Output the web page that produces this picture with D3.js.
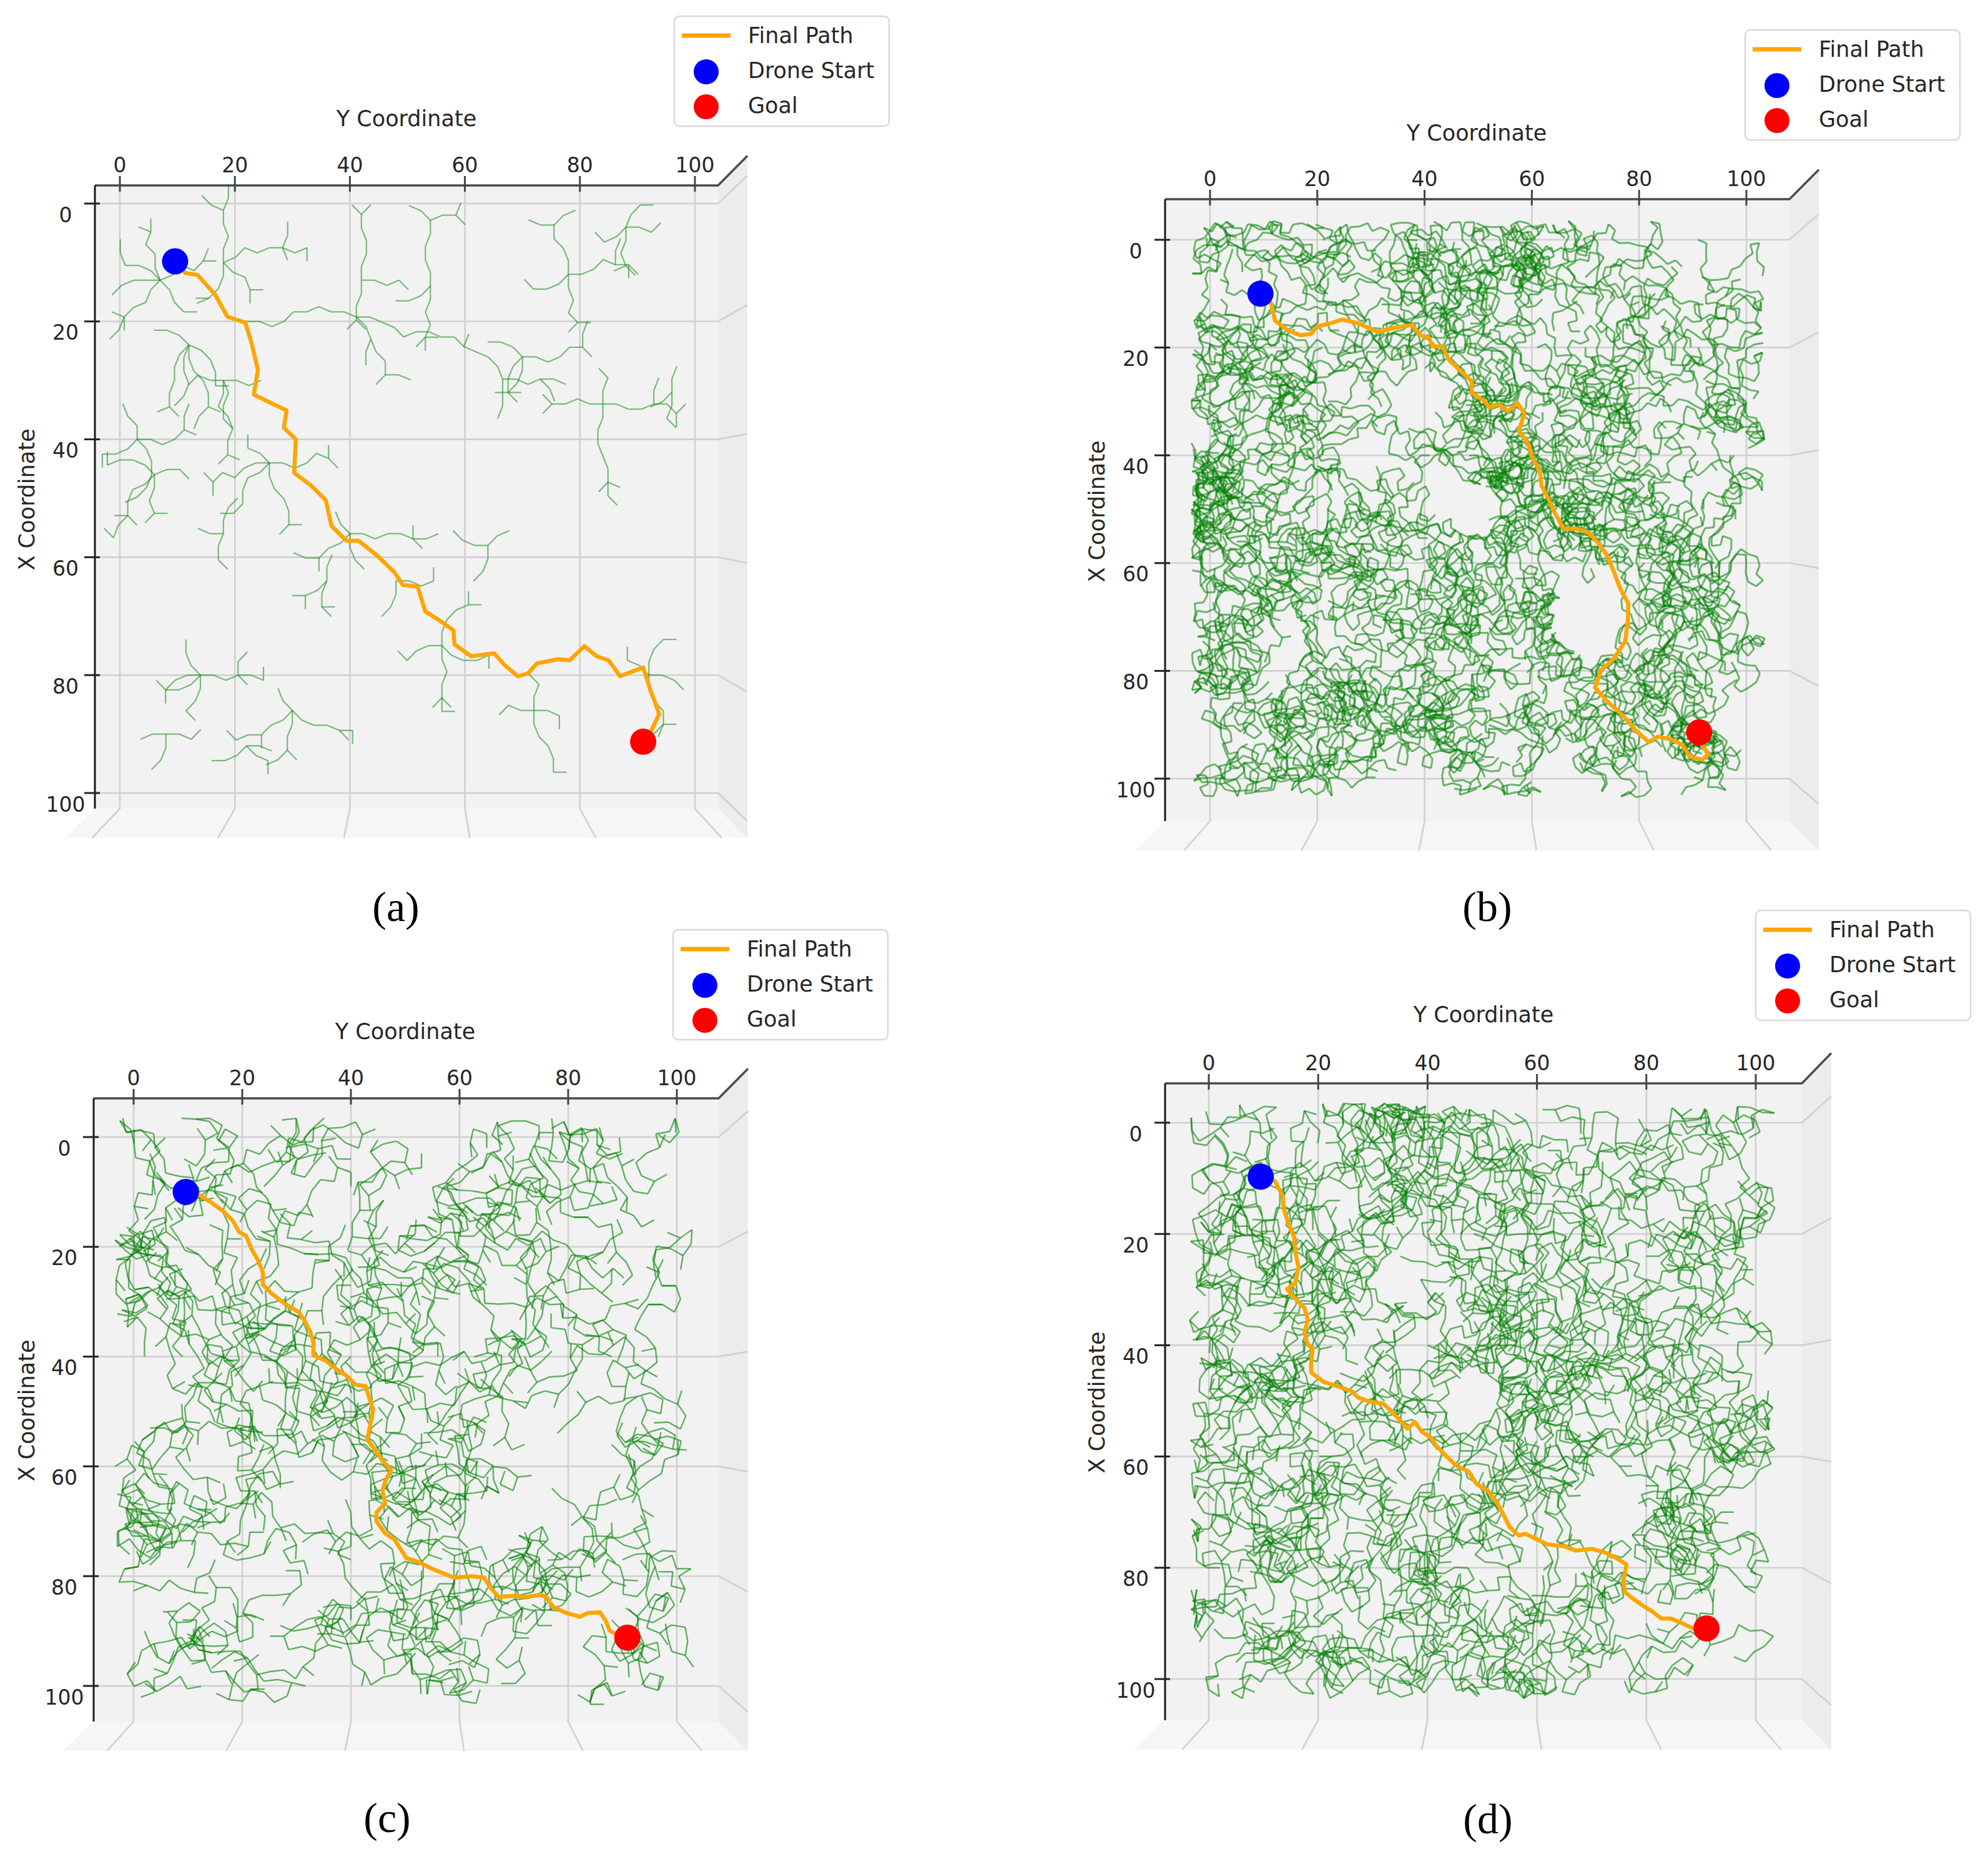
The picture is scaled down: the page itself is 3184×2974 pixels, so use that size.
<!DOCTYPE html>
<meta charset="utf-8">
<style>
body { margin: 0; background: #fff; }
svg { display: block; }
text { font-family: "DejaVu Sans", sans-serif; fill: #262626; }
</style>
<svg id="fig" width="3184" height="2974"></svg>
<script src="https://cdn.jsdelivr.net/npm/d3@7"></script>
<script>
// tick values, same on both axes
const ticks = [0, 20, 40, 60, 80, 100]
const legendItems = ["Final Path", "Drone Start", "Goal"]
const panelTags = ["(a)", "(b)", "(c)", "(d)"]

// start and goal, as [Y, X]
const starts = [[9.6, 9.8], [9.4, 10.0], [9.6, 10.0], [9.5, 9.7]]
const goals = [[91.0, 91.3], [91.2, 91.4], [90.9, 91.2], [91.0, 90.9]]

// final paths, [Y, X]
const pathA = [[9.6,9.8],[11.4,11.8],[13.5,12.1],[16.6,15.5],[18.7,19.2],[21.8,20.2],[22.8,23.3],[24.0,28.2],[23.3,32.4],[26.4,33.9],[29.0,35.1],[28.5,38.0],[30.6,40.0],[30.3,45.7],[33.2,47.8],[35.8,50.3],[36.8,54.7],[39.4,57.2],[41.5,57.2],[44.6,59.6],[47.7,62.5],[49.2,64.7],[51.8,65.0],[53.1,69.2],[55.4,70.6],[58.0,72.4],[58.2,74.8],[61.1,76.8],[65.1,76.3],[66.8,78.2],[69.2,80.2],[71.0,79.7],[72.5,78.0],[76.2,77.3],[78.2,77.5],[80.8,75.1],[82.9,76.8],[85.0,77.5],[87.0,80.2],[91.0,78.7],[92.2,82.4],[93.8,86.6],[92.2,89.8],[91.0,91.3]]
const pathB = [[9.4,10.0],[11.4,11.8],[12.1,15.0],[14.5,16.8],[16.8,17.7],[18.8,17.5],[20.0,16.1],[22.4,15.5],[24.7,14.8],[27.6,15.5],[31.2,17.1],[34.1,16.4],[37.6,15.8],[39.2,17.7],[40.8,18.2],[41.5,19.8],[43.3,19.8],[44.7,22.5],[47.1,24.7],[48.8,26.3],[48.8,28.4],[51.2,30.0],[52.1,31.1],[53.8,30.5],[55.6,31.8],[57.3,30.3],[58.6,32.2],[57.6,35.4],[59.4,38.0],[60.0,40.2],[61.5,42.9],[61.8,45.6],[62.9,47.7],[64.4,50.9],[65.9,53.6],[68.2,53.6],[70.6,54.4],[72.4,56.3],[73.9,58.4],[75.3,61.6],[76.5,64.8],[78.0,67.5],[77.9,70.7],[77.4,74.5],[75.3,77.7],[72.9,79.9],[71.8,83.1],[74.1,85.7],[77.1,88.4],[79.4,91.1],[81.8,93.2],[83.5,92.2],[85.9,92.7],[88.2,93.8],[89.4,95.9],[91.8,96.5],[92.9,95.4],[91.4,93.2],[91.2,91.4]]
const pathC = [[9.6,10.0],[12.2,10.6],[14.4,12.0],[16.6,13.6],[18.3,15.3],[19.4,17.3],[20.7,18.0],[21.6,20.2],[22.9,22.5],[23.8,24.7],[23.8,26.9],[25.4,28.5],[27.6,30.2],[30.4,31.9],[31.5,33.5],[32.6,35.7],[33.1,37.4],[33.1,39.8],[35.3,40.7],[37.5,42.4],[39.2,43.5],[40.8,45.1],[42.7,45.4],[43.3,47.3],[44.1,49.6],[43.6,52.3],[43.0,55.1],[44.7,57.3],[45.8,59.0],[47.4,60.6],[46.3,62.8],[45.8,64.5],[46.3,66.7],[44.7,68.4],[44.7,70.0],[46.3,72.2],[48.0,73.3],[49.1,75.0],[50.2,76.7],[52.4,77.4],[54.6,78.5],[56.8,79.4],[59.0,80.3],[62.3,80.0],[64.5,80.3],[65.8,82.2],[67.2,83.8],[70.0,83.6],[72.2,83.8],[74.9,83.4],[76.0,83.8],[77.1,85.5],[79.3,86.6],[82.1,87.4],[83.7,86.7],[85.9,86.6],[87.0,88.3],[87.6,89.9],[89.2,90.8],[90.9,91.2]]
const pathD = [[9.5,9.7],[12.1,10.5],[13.5,13.2],[13.7,15.5],[14.6,18.2],[15.6,20.5],[15.8,23.2],[16.4,26.0],[15.8,28.8],[14.3,29.9],[15.8,31.6],[17.5,33.3],[18.1,35.5],[17.5,37.7],[18.1,39.9],[19.0,40.5],[18.7,43.3],[18.7,44.9],[21.0,46.6],[23.9,47.5],[26.2,48.3],[27.3,49.4],[29.6,50.2],[31.9,50.5],[33.1,51.6],[34.8,53.3],[36.3,55.0],[37.7,53.8],[38.9,55.5],[40.6,56.6],[41.8,58.3],[43.5,60.0],[45.2,61.6],[47.5,62.7],[49.0,65.0],[51.0,66.1],[52.7,68.3],[53.9,70.5],[55.0,72.7],[56.7,74.2],[57.9,73.9],[60.2,75.0],[61.9,75.8],[64.8,76.1],[67.1,76.9],[70.0,76.6],[72.3,77.2],[74.6,78.3],[76.4,79.4],[75.8,82.2],[76.1,84.4],[77.5,85.5],[79.2,86.7],[81.0,87.8],[82.7,89.1],[84.4,89.1],[86.2,89.8],[88.5,90.9],[91.0,90.9]]

// obstacle gaps seen in the trees: [Y, X, radius]
const holesA = []
const holesB = [[39.4, 29.5, 5], [49.4, 49.8, 4.3], [70, 70.7, 5.8]]
const holesC = [[66, 70, 5], [50.5, 12.7, 3.5]]
const holesD = [[34.6, 28.6, 4], [48.5, 49, 4.2], [72, 69.4, 6]]

// RRT edges: "Y,X:" start, then one letter per edge, "(" / ")" open and close a side branch.
// tree A: letter = heading (a..p = 16 headings, a = +Y, e = +X)
// trees B-D: first letter = heading, then each letter = turn from the previous edge (h/i = nearly straight)
const stepA = 2.3, stepB = 1.7, stepC = 2.6, stepD = 2.3
const treeA = [
"7,13:(lmkn(j)m)(kjil(m))(gfhg(e)(j)fg)(pobo(n)a)(cdc(a))(iih(g))",
"18,10:(mnlm(jk)(nm))(pobpa(nm)(d)bp(e))(efg(h)(i))(cbd(e)a)",
"22,20:abpoapbab(cd(fe)dce(g)(ab))abbcpabac(n)bbcd(ee(f))abp(cd)ab",
"12,24:(edcde(gf)(b))(gfefe(h)(c))(bcde(a))(kj(i))(fedf(g))",
"18,30:(efcdfe(b)(g))(ij(g))(abp)(dfe(c))",
"3,40:(abpo(mn)(b))(cdefg(h))(ghi(k)(e))(mkl)",
"42,13:(mnmlm(k)(o))(efe(c)(g))(abp(c))",
"54,14:(mlmnm(kj)(pa(n)(c)))(efdf(a)(g)e)(ghi)",
"78,12:(mlkm(ij)(op))(apob(mn)a(c)(e))(edfc(a)(g))(ghi(k))",
"88,4:(efd(c)(h))(ab(o))(gh(k))(no(a))",
"70,26:(abpoa(mn)(c))(efg(i)(c))(kj(i))(gfe(a))",
"84,34:(abap(mn)ac(e)(o))(ijhi(k)(g))(efedde(g)(b)e(c))(mnk)",
"96,32:(gh)(ef(c))(mn)",
"26,44:(ihgjg(e)(k))(abpob(m)(c))(edcde(a)(g))(kjm)(ghfeg(i))",
"18,56:(mn(o))(fe(c))(ij)",
"40,56:(abpab(m)(c)ap)(ghg(ij)(e))(ed(c))(kl)",
"36,64:(gh(i)(e))(fe(c)(a))(mn)",
"14,80:(ihg(k)(e))(abp(mo)(c)ab(m))(kl(m))(efg(c))(ghi)",
"8,90:(ab(o))(ef(g))(ih)",
"30,86:(ghg(e)ih(k))(cbab(c)a(e))(efe(gh)(c))(kl)",
"22,92:(gh(i))(cb(e))(ab)",
"56,75:(mnop(m)(a))(ihg(k))(edfe(c)(g)e(a))(cbap(e))",
"72,86:(edcde(a))(mn(k))(ij(g))(ab(e))",
"92,80:(mno(a))(edce(g)(a)f)(kjm)(ab(c))",
"6,46:(kjih(m))(pa(c))(ghfe(i)(c)gf(k))(efd(a)g)",
"48,64:(abp(m))(ef(g))",
"64,58:(ij(k))(op)(ef(g))"
]
const treeB = [
"1,1:dkhpbfmaoiegcljnbhekpdamgfoiclnk(b)ehjdpagmcfkoe(i)bnlhd",
"11,2:gamcoekibpfhdlnjagokcmeibhpfdnljk(c)aegmokibdfhpjl(n)cea",
"21,0:pjbhldnfaciekmgoblpjhdfnaceikgmo(d)jbphlnfdaecki(g)omb",
"31,2:inbkfcoghmdaeljpbinfkcgohmdaelpj(a)nkbfoghcmdeal(j)pib",
"41,1:eogmciakbfdhpjlnoegmcaikfbhdjpnl(e)gomcaibkdfhp(l)jne",
"51,0:mcaeoigkbdfhjlnpacmeiogkdbhfljpn(m)caoeigbkfdhl(p)njc",
"62,2:kfbdhmjpnlaceigokfdbmhpjlnecagio(k)bfhdjmnplcae(o)gik",
"71,1:hlpdbjnfkacgmeiohldpbnjfakcmgeio(h)plbdjfnkcame(g)ohl",
"81,2:ofjbkdnhlpaegcmiofbjdknhplaegmci(f)objkdhnlpeag(m)cio",
"91,0:bnhldfjpcakgeimobhnlfdjpackgiemo(b)nhdlfjcpkage(m)iob",
"2,11:cmaigoekhbdpjfnlcmiagokehdbpfjln(c)imaogkhedbjp(f)lnc",
"12,12:fkdpbhnjlaeicgomfdkbphjnalicegmo(f)kdbpnhjlaice(o)gmf",
"22,10:jnlhpdfbaogcmiekjlnphfdbgaocimke(j)nlhpfdbgoacm(e)kij",
"32,12:aicgkmoebdfhjlnpiacgmkoedbhfljnp(a)icgkomebdhfj(n)lpa",
"42,10:lnjpbdhfmkoigecalnjbpdfhmokgiaec(l)jnbphdmfoikg(c)eal",
"52,12:doflhbjnpaemcgikdofhlbnjapmecigk(d)foblhnjapcme(k)gid",
"62,11:gkmioecabdhfjlpngmkieocadbhfjlnp(g)kmioeabcdfhj(p)lng",
"72,12:nbjflhpdkoaimcegnbfjhlpdokiamceg(n)jbflphdkaoim(e)cgn",
"82,10:emgkaicoflhjdbpnmegkiacolfjhbdnp(e)gmkaicofhljd(n)bpe",
"92,12:iaecmgoklbhfpdjnaiecgmkobhlfdpnj(i)eacmgkolhbfp(j)dni",
"1,21:bpdnfljhcakimgeobpndlfjhackimgoe(b)dpfnjlchaikm(o)geb",
"11,22:kgocmaeijlnphfdbgkcoamieljpnfhbd(k)ogcmaiejnlpfh(b)dgk",
"21,20:hdjbnlpfeiacokgmdhbjlnfpieaockmg(h)jdbnplfeaico(g)kmh",
"31,22:ocgkiamejnbhlfpdcogkaimenjhblfdp(o)gckaimjenhbl(d)fpo",
"41,21:mieakcgonpljhdbfimaekgcopnjlhbdf(m)eiakcgnoplhj(f)dbm",
"51,22:fbhldnjpgkcmeoaibfhlndpjkgmcoeia(f)hbldnpjkgcme(i)oaf",
"61,20:pnljhfdbigkcmoeanpjlfhbdgikcomae(p)lnjhfbdgkic(e)oma",
"71,22:cekgimoalnpjbdhfecgkmiaonpljdbfh(c)kegimaolpnjb(h)fdc",
"81,21:jhfnldbpoamkcegijfhlndpbaomckgei(j)fhnlbdpomakc(i)gej",
"91,20:dlpbhnfjmioeakcgldbphfnjimeokagc(d)pblhnjfiomea(g)cld",
"2,31:gimkocaeljnpdfbhigkmcoealnpjfdhb(g)mikoacelnjp(b)dfg",
"12,32:nhbjdlfpakcmgioenbhdjflpkacgmieo(n)bhjdfplkacm(o)gin",
"22,30:ajcelgnibkdmfohpjaeclngbikmdofph(a)cjelgnbkidm(p)foa",
"32,31:lfndpbhjeogmaickflndbphjoegamcki(l)nfdpbjhoeag(k)mcl",
"42,32:ckaemgoiplnjhfdbkcaegmiolpjnfhbd(c)akemgoipnlj(d)hfc",
"52,30:hpfnjdlbmacogkiephnfdjblcmoakgie(h)fpnjdlbcmoa(i)gkh",
"62,32:emcokgaidjbpfnhlmecogkiajdpbnfli(e)cmokagijbdp(l)fne",
"72,31:jbhfdnlpgciakmoebjfhndplcgaikome(j)hbfdlnpgcai(e)omj",
"82,30:oigkmecanlpjbhdfiogmkceaplnjhbfd(o)giekmcanpjl(f)hdo",
"92,32:fdbhjlnpkimoacegdfhbljpnikmocaeg(f)bdhjlpnkioa(g)ecf",
"1,41:kcagiemonjlphbfdckgaeimoplnjbhdf(k)acgieompnjl(d)fbk",
"11,42:bhdfjlnpocakigmehbfdljpnaockgime(b)dhfjnlpaoci(m)egb",
"21,40:mgiekcaopnljfhdbgmeikacopljnhfbd(m)igkecaonplj(b)dhm",
"31,42:djfhbnlpaekcgiomjdhfnblpkeacigmo(d)fjhbnplaekc(o)gid",
"41,40:ieacgkmopnljdhfbeicakgmonpjldfhb(i)aegckmopljn(b)fdi",
"51,42:nplhjdfbckgeiamopnhldjbfkcegaimo(n)lpjhfdbckge(o)amn",
"61,41:cgkeaimobdfhlnjpgcekiamodbhfnljp(c)kgaeimodfbh(p)jlc",
"71,40:hjdblfpnmoikgecajhbdflnpomkigcea(h)djbflpnmiko(a)ceh",
"81,42:oecgmakijplnfdhbeocmgaikpjnlfhdb(o)cegamkiplnj(b)hdo",
"91,41:fldpjbnhgkamciofldjpbhnkgmaicfoe(f)dljpnbhgkma(e)oif",
"2,51:aomkigeclnpjhfdboamikgcelpnjfhbd(a)mokigecnlpj(d)bfa",
"12,52:jpbfhldnkeamgcoipjfbhdlnekmagoci(j)bpfhldneakm(i)ocj",
"22,50:eikmacgoblfjhnpdiekmcaogblfjhnpd(e)kimacgobjlf(d)pne",
"32,52:lbdfhjnpcgaekiomblfdjhpnacgkeimo(l)dbfjhnpgcae(o)mil",
"42,51:gmoikcaenpljdfhbmgoikcaeplnjfdhb(g)omiakcenlpj(b)hfg",
"52,52:pjnlhfdbaceikgomjpnhlfbdcaeigkmo(p)nljfhdbeacig(o)mkp",
"62,50:dhfbjlnpmikoeacghdbfljpnimokcaeg(d)fhjblnpmiko(g)cad",
"72,52:kacegimonlpjhfbdakcgeimolnpjfhdb(k)caeigmonpjl(b)dfk",
"82,51:bfhdlnjpeocmkagibfdhnljpoemckaig(b)hfdnljpeocm(i)gab",
"92,50:mkogiecapnjlhbfdkmoigeacnpljbhdf(m)okgieacpnjl(f)dhm",
"1,61:hnljpdbfimkgoaechnlpjbdfmikogaec(h)lnpjdbfmkig(c)eoh",
"11,62:cgeaikomdfbhjnlpgcaeikmodbfhnjpl(c)egaikomdbfh(l)pjc",
"21,60:odbfhlpnigekcmaodbhflnpgiekcamio(d)bhflpngieck(a)mod",
"31,62:fjlnpbdhckmaeogijflpnbhdckaemoig(f)ljnpbdhcmka(g)oef",
"41,61:lpjnhdfbgaieckmoplnjdhbfagiceokm(l)pjhndfbaigc(m)okl",
"51,60:aegcikmobhdflnpjeagcimkohbfdnlpj(a)gecikmobdhf(j)pla",
"61,62:ikmgoecahjlnbpdfkimogceajhnlbdpf(i)kgmoceahnjl(f)dbi",
"71,61:dnpljhfbcaekigmondlpjfhbacekgimo(d)npjlfhbcaek(o)mgd",
"81,60:gcaekimoflhjdnpbcgeakmiolfjhndbp(g)aceikmofhlj(p)ndg",
"91,62:nlpjdbhfkmoigecanlpdjbhfmkoiegca(n)pljbdhfkmoi(a)ecn",
"2,71:eokmaicgbhdflnjpokemiacgbdhflnpj(e)kmoaicgbdfh(j)lpe",
"12,72:lhfdbjnpcaegikmohlfdjbpnacgeikom(l)fhdbjpncaeg(o)mil",
"22,70:bdfhjlnpmoikgecabfdhljnpomkigeca(b)fdjhlnpmoik(a)ecb",
"32,72:jnplhdbfecagikomnjpldhfbcegaikmo(j)plnhbdfeacg(m)oij",
"42,71:omkigecapnljhfdbmoikgceanplhjfbd(o)kmgicaenpjl(d)bho",
"52,72:cegaikmobdfhjlnpecagikomdbfhljpn(c)geaikmodbfh(n)plc",
"62,70:iacegkmohjlnpbdfaicgekomjhnlbpdf(i)caegkmohjln(f)dbi",
"72,72:fhdbljnpgiaceomkhfdblnjpigcaeomk(f)dhbljnpgica(k)mof",
"82,71:mogikacednlpjfhbomigkacdenplfjbh(m)giokaecdnlp(h)bjm",
"92,70:pnjlfhbdkioemgcanpljhfdbikeomgca(p)jnlhfbdkieo(a)cgp",
"1,81:aceikmgodbfhnljpcaeikgmobdhfnjlp(a)eckimgodbhf(p)lja",
"11,82:gikmoaecjlnpbdhfigmkoeacljpnbhdf(g)kimoeacjnlp(f)hdg",
"21,80:dfhbljnpoamkciegfdhbljpnmaokcgie(d)hfblnjpoamk(e)gid",
"31,82:kmoaigcelpnjfdhbmkoiagcepnljdfbh(k)omaigcelnpj(h)bfk",
"41,80:hbdfnljpceagkmoibhdflnjpecgakomi(h)dbfnljpeca(i)omh",
"51,82:nljpdfhbimkogaecnljpfdbhmikoagce(n)ljpdfhbimko(c)ean",
"61,81:bfhdjlpnaegcikmofbdhjplnaegicmko(b)hfdjlpnagec(o)mkb",
"71,80:ogmikaecpjlnbhdfgomkiacejpnlhbfd(o)mgkiacepjln(d)fho",
"81,82:eacgikmondfhljpbaecgkimonfdhjlbp(e)cagikmodnfh(p)lje",
"91,80:jlnpbdfhkigmoecajlnpdbhfikmgeoca(j)nlpbdfhkigm(a)cej",
"2,91:mkiogecafhdbljpnkmioegacfdhbjlnp(m)ikogecafdhb(n)plm",
"12,92:cagekimohfdbpnljacgeikmofhbdnplj(c)gaekimohdfb(j)lnc",
"22,90:ljnpbhdfgeacimkojlpnhbfdgaecikmo(l)njpbhdfgeac(o)kml",
"32,92:fdbhnljpoimkaegcdfhbnjlpomikeagc(f)bdhnljpoimk(c)gef",
"42,91:iomkceagjlnpdfbhoimkecgajnlpfdhb(i)mokceagjlnp(h)bdi",
"52,90:bhfdjpnlmkoigcaehbdfpjlnkmiogace(b)fhdjpnlmkoi(e)acb",
"62,92:eikgmoacbfdhlnpjiekmgaocfbhdnljp(e)kigmoacbfdh(j)pne",
"72,91:njlphbfdacekimognljphbdfcaeikmgo(n)ljphbfdace(o)gin",
"82,90:kocmagiedhbfpnljockmgaiehdfbnplj(k)comagiedhbf(j)lnk",
"92,92:pljnfhdbegacomkilpnjhfbdgecaoimk(p)jlnfhdbegac(k)iop",
"6,6:mfkbpdhaolgjecnibkfmdaphogcljnebikdfamhpoclgjaenbdk(i)fhm",
"22,7:ekophcnajbmgildfhaepkcobmjgnldifakeohpcnbjmgaldi(f)keoh",
"38,5:bjlfcnhaeopgkdimjbfhlncpaeokgmidbjhflcnepaog(k)dimb",
"54,6:hnadkpfjcgmobelilhndakfpjgcmboelihandkpjfgcmo(b)elih",
"70,7:oigbmecakpnhjdflgoimbcekapnjhfdlogibmecakn(p)hjdfl",
"86,5:cphmjaekgnbfodliphcmjeakngbfdoilpchjmeakgbnf(o)dli",
"5,16:dlegpajnchkobfimldgepjancokhfbmidlgpeajnhc(k)obfm",
"21,17:kbnfidmapgoechjlbknifmdaogpcejhlbkifnmadopg(c)ehjl",
"37,15:gnckebjhaplfodimngkcbejhpalofdminckgbejahp(l)fodm",
"53,16:aejmhcpkdngbilofeajhmckpnbdgilfoaemjhcpkd(n)gbil",
"69,17:inpbdhlkfaojcgmeipnbhdklfoajcgmeinbpdhlkf(a)ojcg",
"85,15:fbokmjgldahcepinfobkmgjldhaceipfnbokmjgld(a)hcep",
"6,26:lhcdnmgaipkbfjeohlcndgmaipbkfjeolhcdnmgai(p)kbfj",
"22,25:pjfmbgoeckadnlhijpfbmogeckdanlihjfpbmgoec(k)adnl",
"38,27:caholfkdnjegmbpiachlofkndjgembpicahlofkdn(j)egmb",
"54,26:nkejaimcbphgdlofnkjeiamcpbhgldofnkejaimcb(p)hgdl",
"70,25:ebgplinhdjcakomfebpglnihjdcakomfbegplinhd(j)caok",
"86,27:jmcfohakdbnelgipjmfcohkadbenlgipmjcfohakd(b)nelg",
"5,36:hdjkbnafpcolgmeihdkjnbfapcolgemihdjkbnafp(c)olgm",
"21,37:oljciaemhbfdnkgpolcjaiemhbfdknpgoljciaemh(b)fdkn",
"37,35:bgmhekdncilpjfaobgmhkedncipljfaogbmhekdnc(i)lpjf",
"53,36:mcgnpafkhjeiodlbmcnpgafkjheiodblmcgnpafkh(j)eiod",
"69,37:fpkdaiglbmochenjfpdkailgbmocehnjpfkdaiglb(m)oche",
"85,35:kaebhmjogdnpfcilkabehmojgdpnfclikaebhmjog(d)npfc",
"6,46:eolfbjdkgahmcinpeoflbjkdgamhcinpoelfbjdkg(a)hmci",
"22,47:ncjaheplgbkfmdoinjcahelpgkbfmdoincjahepl(g)bkfmd",
"38,45:gkpmbchdiaoejlnfgkmpbcdhiaeojlnfkgpmbchdi(a)oejl",
"54,46:pbhjkmfaengoclidpbjhkmafnegoclidbphjkmfae(n)gocl",
"70,47:dlaomkipchgbjefndlomakpichbgjefnldaomkipc(h)gbje",
"86,45:ihdcnoepbkjaflgmihcdoneplkbjfagmhidcnoepb(k)jafl",
"5,56:algpjcfibmhkodenalpgcjfimbkhodenlagpjcfib(m)hkod",
"21,57:fnoekhbicpmjlgdafneokbhicmpjgldanfoekhbic(p)mjlg",
"37,55:kjdbmafgpoilhcenkjbdamfgopilchenjkdbmafgp(o)ilhc",
"53,56:chmlnegdbkjpiofachlmengbdjkpoifahcmlnegdb(k)jpio",
"69,57:mpifcdalkhgnjbeompfidcalhkngjbeopmifcdalk(h)gnjb",
"85,55:gebnoljkmadiphcfgeonbljmkadpihcfegbnoljkm(a)diph",
"6,66:ncgjpalfhdmobikenjcgpafhldmboiknecgjpalfh(d)mobi",
"22,67:bidmeolkajfgcphnbdimoelkjafgpchndbimeolka(j)fgcp",
"38,65:jogaknfcmebdliphjgoanfkmcedblpihojgaknfcm(e)bdli",
"54,66:elkhbmpjodigfacnelhkmbpjdoigafcnlekhbmpjo(d)igfa",
"70,67:hafcilnbgkpedomjhacfinlgbkepdmojahfcilnbg(k)pedo",
"86,65:pmdoejgchbakfnlipmodjegcbhakfnlimpdoejgch(b)akfn",
"5,76:dkbmhopnjaglceifdbkhmoplnjagclefidkbmhopn(j)aglc",
"21,77:jefgmdciblnphakojfegdmcilbnphkaofjegmdcib(l)nphk",
"37,75:oclkjnaemgfhbdpiolckjanemfghbdpilocjkaneg(m)fhbd",
"53,76:ahpbgkfdjcmeniolhapgbkdfjcemnoilahpbgkfdj(c)meni",
"69,77:lmgiedjokpcafbhnlmigedojpkacfbnhmlgiedjok(p)cafb",
"85,75:fnaoclbhmkepijdgfnoaclhbmkpeijgdnfaoclbhm(k)epij",
"6,86:ibmcfkoahjnedlpgibcmfkaohjendlpgbicmfkoah(j)nedl",
"22,87:eoncldjgiafhkmbpeonclgdjiahfkmpbonecldjgi(a)fhkm",
"38,85:kfiaobmdeglhpcnjkfaiobdmeglhpcjnfkaiobmde(g)lhpc",
"54,86:cjlphnaiokbfmedgcjplhnioakbfemdgjclphnaio(k)bfme",
"70,87:nmekgbcjlfaohpidnmkegcbjflaohipdmnekgbcjl(f)aohp",
"86,85:gpdnimekhocjablfgpndiemkhcojbalfpgdnimekh(o)cjab",
"5,96:hegoaknmpbcildjfhgeoakmnbpcildfjghegoaknm(p)bcil",
"21,97:bpljmdgenficahokbplmjdgeinfcahokpbljmdgen(f)icah",
"37,95:mclebpgkoiajndhfmclbepkgioajndfhcmlebpgko(i)ajnd",
"53,96:ikfdhnolagjmpebcikdfhonlagmjpecbkifdhnola(g)jmpe",
"69,97:dagkmibfcjhleopndagmkibcfhjleonpadgkmibfc(j)hleo",
"85,95:ljhnpecakfdgbmoiljnhpeackfgdbmoijlhnpecak(f)dgbm",
"88,5:kcnhfaojdlbmgepiknchafjodlbmegpi(c)knhcfajdol",
"96,12:hdmaleckgbjofnpihdmlaekcgjbfonpi(h)dmlaekcgjb",
"84,16:bnfkiahcomejgldpbnkfaihocmjegdlp(b)nkfaihocmj",
"92,26:ojcgmbelhakdipnfojgcmbleahkdpinf(o)jgcmblehak",
"86,32:lfaockhmdbjnegipflocakmhbdnjgeip(f)locakmhbdn",
"97,40:egkbnhpcjmaodfliegbknhcpmjoadlif(e)gbknhcpmjo",
"90,44:iaemgocjkbhnfdlpaiegmojckhbfndlp(i)aegmojckhb",
"78,50:nhbjdlfpakcmgioehnjbldpfkacgmioe(n)hjbldpfkac",
"86,56:cokgaemidjbhlnfpockagmeijdhblfnp(c)okagmeijdh",
"72,48:gmdiplaenckhbjfomgidlpeancbkhjof(g)midlpeanch",
"64,56:pbfjhndlgckaeoimpbjfnhldcgakoeim(p)bjfnhldcga",
"80,62:dhlafpcjmgebiknodhalpfjcgmbekinod(h)alpfjcgmbe",
"94,60:jneackgomibhfdlpjenacgkmoibfhdlp(j)enacgkmoib",
"90,70:fkomaicegldnhbjpfkmoaiecglndhbjp(f)kmoaiecgln",
"96,80:mcihaegkobdpflnjmicahgekbodfpnlj(m)icahgekbod",
"84,86:aljngdfhpceikmobajlgndhfcpiekmob(a)jlgndhfcpi",
"94,94:khgecamoipnljfdbhkegcaomipnjlfdb(k)hegcaomipn",
"76,94:eblidognkfachjpmbelidgonfkcahjpm(e)blidgonfka",
"64,92:opcnaekmgidfhlbjpocnakemgdifhlbj(o)pcnakemgdi",
"56,88:hjfdbplnikmoaecghjdfbpnlkimoeacg(h)jdfbpnlkim",
"46,94:nmacegkoiphjldfbmnacgekopihljdfb(n)macgekopih",
"36,90:dbhfljpnmkoigecadbfhjlnpkmiogeca(d)bfhjlnpkmi",
"26,96:loemcgaikbdnhfjpoelmcagikdbnfhjp(l)oemcagikdb",
"16,88:gafkpbmhcnodiejlgafpkbhmcondeijl(g)afpkbhmcon",
"6,94:biodfkalhpgmjncebiofdkahlpmgjnce(b)iofdkahlpm",
"4,74:kngaedcpbmjhfoilkngedapcmbjhofil(k)ngedapcmbj",
"10,66:fheolkbdjagpcinmfhoekldbajgpicnm(f)hoekldbajg",
"2,56:mkjlgbaeochpfndimkljbgeachopfdni(m)kljbgeacho",
"12,50:cdpngiofkalhmejbcdnpigfoaklmhjeb(c)dnpigfoakl",
"30,58:jbmaoldfniehcpkgjbamlofdinhecpkg(j)bamlofdinh",
"40,66:amgfpkjenbdlohcimagpfjknebldhoci(a)mgpfjknebl",
"54,76:ielbocmhagnkdpfjielobmcahgkndpfj(i)elobmcahgk",
"62,80:ndkjhfocmbailgpendjkfhcobmaiglp(n)djkfhcobma",
"30,6:pfngkdajhmlbecoipfgnkadhjmblceoi(p)fgnkadhjmb",
"46,4:hcaolgdpjkfmbinehcolagpdjkmfbine(h)colagpdjkm",
"60,12:lgjphcnbeafdkmoilgpjhncbaefkdmoi(l)gpjhncbaef",
"70,20:ebnmjaklcfgidhopebmnjkalcgfidhop(e)bmnjkalcgf",
"58,42:okdgclbjnhaeipfmokgdlcbjhnaeipfm(o)kgdlcbjhna",
"44,38:gnhcjpmeaokbfldigncjhpemaobkfldi(g)ncjhpemaob",
"20,42:bfjmdkheapognlcibfmjkdheaopgnlci(b)fmjkdheaop"
]
const treeC = [
"3,3:dk(g)hpb(a)fma(i)oieg(c)cljn(o)bhek(e)pdam",
"15,4:gam(e)coek(a)ibpf(m)hdln(c)jago(i)kcme(g)ibh",
"28,2:pjb(l)hldn(e)facie(o)kmgo(b)lpjh(i)dfna(k)cei",
"40,4:inb(d)kfco(m)ghmd(a)eljp(g)binf(o)kcgo(e)hmd",
"53,3:eog(b)mcia(k)bfdh(n)pjln(e)oegm(c)aikf(j)bhd",
"65,2:mca(g)eoig(a)kbdf(m)hjln(c)pacm(e)iogk(a)dbh",
"78,4:kfb(m)dhmj(e)pnla(i)ceig(o)kfdb(g)mhpj(a)lne",
"90,3:hlp(e)dbjn(a)fkac(i)gmei(c)ohld(m)pbnj(g)fak",
"2,15:ofj(c)bkdn(i)hlpa(e)egcm(o)iofb(k)jdkn(a)hpl",
"14,16:bnh(k)ldfj(c)pcak(g)geim(a)obhn(e)lfdj(m)pac",
"27,14:cma(e)igoe(m)khbd(a)pjfn(i)lcmi(c)agok(e)hdb",
"39,16:fkd(o)pbhn(g)jlae(c)icgo(k)mfdk(a)bphj(e)nal",
"52,15:jnl(a)hpdf(m)baog(e)cmie(i)kjln(c)phfd(o)bga",
"64,14:aic(m)gkmo(e)ebdf(i)hjln(a)piac(g)gmko(c)edb",
"77,16:lnj(e)pbdh(o)fmko(a)igec(k)alnj(e)bpdf(i)hmo",
"89,15:dof(k)lhbj(a)npae(g)mcgi(o)kdof(c)hlbn(e)jpa",
"3,28:gkm(a)ioec(k)abdh(m)fjlp(e)ngmk(a)ieoc(g)adb",
"15,27:nbj(g)flhp(a)dkoa(m)imce(c)gnbf(i)jhlp(o)dko",
"28,29:emg(o)kaic(e)oflh(k)jdbp(a)nmeg(e)kiac(m)ofl",
"40,27:iae(k)cmgo(c)klbh(a)fpdj(g)naie(o)cgmk(e)olb",
"53,29:bpd(g)nflj(a)hcak(m)imge(c)obpn(i)dlfj(a)hca",
"65,27:kgo(c)cmae(i)ijln(o)phfd(e)bkgc(m)omae(a)ijl",
"78,29:hdj(i)bnlp(e)feia(o)cokg(a)mhdb(k)jnlp(c)fei",
"90,27:ocg(a)kiam(e)ejnb(k)hlfp(g)docg(o)kaim(c)ejn",
"2,40:mie(c)akcg(o)onpl(g)jhdb(a)fmia(k)ekgc(e)opn",
"14,41:fbh(m)ldnj(a)pgkc(e)meoa(i)ifbl(c)hdnp(g)jkc",
"27,39:pnl(e)jhfd(k)bigk(a)cmoe(g)anpj(m)lfhb(c)dgi",
"39,41:cek(g)gimo(a)alnp(e)jbdh(k)fcgk(o)emia(c)onl",
"52,40:jhf(a)nldb(m)poam(e)kceg(i)ijhn(a)flbd(g)pom",
"64,41:dlp(i)bhnf(c)jmio(k)eakc(a)gdpl(e)bnhj(m)fio",
"77,39:gim(c)koca(i)eljn(a)bhlf(e)pdgm(k)iock(a)ejl",
"89,41:nhb(e)jdlf(o)pakc(g)mgio(a)enbj(k)hfld(c)pak",
"3,53:ajc(m)elgn(e)ibkd(a)mfoh(i)pjae(c)clgn(o)bki",
"15,52:lfn(a)dpbh(k)jeog(c)maic(e)klfd(m)nbph(a)jeo",
"28,54:cka(e)emgo(i)ipln(c)jhfd(o)bkca(g)gmeo(a)lpi",
"40,52:hpf(k)njdl(a)bmac(e)ogki(c)ephd(m)fjnb(i)lca",
"53,54:emc(a)okga(g)idjb(m)pfnh(c)lmec(e)gkoa(a)djb",
"65,52:jbh(o)fdnl(e)pgci(a)akmo(k)ejfb(c)hnld(g)pcg",
"78,54:oig(c)kmec(i)anlp(e)jbhd(a)fgoi(m)mkae(c)cnl",
"90,52:fdb(m)hjln(a)pkim(e)oace(i)gfhd(c)bljp(o)nkm",
"2,65:kca(e)giem(k)onjl(a)phbf(g)dkac(o)igme(c)njp",
"14,66:bhd(i)fjln(c)poca(m)kigm(a)ebfh(e)djnl(k)paco",
"27,64:mgi(a)ekca(e)opnl(m)jfhd(c)bigm(o)aeck(i)lpn",
"39,66:djf(c)hbnl(k)paek(e)cgio(a)mfjd(g)bhln(m)kpe",
"52,64:iea(g)cgkm(o)opnl(c)jdhf(i)baie(a)gcmk(e)npo",
"64,66:npl(e)hjdf(a)bckg(m)eiam(c)opln(k)jhdf(o)gbe",
"77,64:cgk(o)eaim(e)obdf(i)hlnj(a)pkgc(m)aiem(c)dbf",
"89,66:hjd(c)blfp(m)nmoi(a)kgec(g)ahjb(e)lpdf(k)nim",
"3,78:oec(i)gmak(a)ijpl(e)nfdh(o)bcoe(g)mgak(a)ipj",
"15,77:fld(a)pjbn(e)hgka(m)mcio(c)efdl(k)jpnb(g)hka",
"28,79:aom(g)kige(a)clnp(e)jhfd(m)bmao(c)gkei(o)lcn",
"40,77:jpb(k)fhld(a)nkea(e)mgco(g)ijbp(o)hfdl(e)nke",
"53,79:eik(c)macg(i)oblf(a)jhnp(m)dkei(e)camg(o)ofl",
"65,77:lbd(o)fhjn(c)pcga(e)ekio(k)mdbl(a)hjfp(g)ncg",
"78,79:gmo(e)ikca(k)enpl(c)jdfh(m)bomg(a)kiac(e)pnl",
"90,77:pjn(i)lhfd(a)baci(o)egkm(c)ojpl(g)nfhd(a)bac",
"2,90:dhf(a)bjln(o)pmik(e)oeac(k)gdhb(c)fjnl(m)pik",
"14,91:kac(e)egim(a)ofhd(g)bljp(m)nkce(o)agmi(c)fdh",
"27,89:bfh(k)djpn(e)laeg(c)cikm(a)ofbd(i)hjnp(e)lgc",
"39,91:ogm(c)ikae(i)cnlp(a)jbdf(m)hmgo(e)kica(g)npl",
"52,89:eac(m)gikm(c)odfh(k)bljn(a)peag(e)cmki(o)dhf",
"64,91:nlj(e)pbdh(a)fkim(g)oceg(m)anpl(c)jbdf(e)hmk",
"77,89:ioc(a)emkg(e)ajlp(i)nhdf(c)bock(a)egmi(m)jnp",
"89,91:fdb(g)hjpn(o)lmki(c)oegc(a)afhb(k)dlnj(e)pmi",
"9,9:fk(b)dnah(o)lcjm(e)gipb(k)fhmd(a)ecnl",
"24,9:oh(d)jbmf(a)kelp(i)cgna(m)dkfj(c)hebo",
"40,9:mc(k)aodg(e)jnbh(p)filk(a)ecmg(o)nbdj",
"56,9:bl(f)gkop(c)dmae(j)nhif(b)kopc(g)mlad",
"72,9:je(n)hcak(m)ogbd(f)plij(e)cahn(k)mgbo",
"88,9:dp(i)mfln(a)bkhj(c)egoc(m)dpfi(l)nakb",
"9,24:ha(m)ekcp(d)jfgo(b)nlih(a)kecm(p)dgfo",
"24,24:ng(c)bljd(k)pahe(f)iomn(g)cljb(d)kaph",
"40,24:ck(o)fidm(a)hbej(n)glpc(k)ofim(e)dhba",
"56,24:ib(e)njhg(c)akmp(d)lofi(b)ejng(h)cakm",
"72,24:pf(k)dambo(i)lgcn(e)hjpf(a)kdmb(o)ilgc",
"88,24:el(a)oigp(n)cfjb(m)dkhe(l)aoig(p)ncfj",
"9,40:ko(e)gapc(j)ndlb(h)fmik(o)egap(c)jndl",
"24,40:bj(m)hfnl(c)aego(i)dpkb(j)mhfn(l)caeg",
"40,40:gc(i)pknd(a)mjfe(o)lbhg(c)ipkn(d)amjf",
"56,40:ma(f)kocl(g)eidp(j)nbhm(a)fkoc(l)geid",
"72,40:dh(n)bjga(k)mpfe(c)iold(h)nbjg(a)kmpf",
"88,40:jn(b)fpem(h)kcgi(a)dloj(n)bfpe(m)hkcg",
"9,56:ne(j)bhdk(p)gaci(m)flon(e)jbhd(k)pgac",
"24,56:fi(c)mpnb(e)jhak(d)glof(i)cmpn(b)ejha",
"40,56:al(g)odjc(n)emfb(k)pihha(l)godj(c)nemf",
"56,56:kp(d)gifm(b)ncoe(h)jalk(p)dgif(m)bnco",
"72,56:ho(a)lekd(i)fnpg(b)jcmh(o)alek(d)ifnp",
"88,56:cg(m)njbl(e)hoai(k)fdpc(g)mnjb(l)ehoa",
"9,72:oj(h)dcab(m)pnfk(g)leio(j)hdca(b)mpnf",
"24,72:ib(l)pgme(c)kahn(f)dojb(i)lpgm(e)ckah",
"40,72:en(k)ajfh(d)plcg(o)bmie(n)kajf(h)dplc",
"56,72:lc(f)ohkb(a)igdm(p)enjl(c)fohk(b)aigd",
"72,72:dm(b)iemp(j)gfna(l)chkd(m)biem(p)jgfn",
"88,72:gh(e)ncoa(k)bljp(d)mifg(h)enco(a)kblj",
"9,88:ap(j)ekgc(n)mhdb(f)oila(p)jekg(c)nmhd",
"24,88:jf(o)bnld(m)hpci(a)gekj(f)obnl(d)mhpc",
"40,88:mb(g)dkah(e)plfo(c)nijm(b)gdka(h)eplf",
"56,88:fk(c)hjnm(o)aebg(l)dipf(k)chjn(m)oaeb",
"72,88:ol(i)gfbe(d)mkcp(n)ahjo(l)igfb(e)dmkc",
"88,88:ch(n)lpio(g)bdaj(e)kmfc(h)nlpi(o)gbda"
]
const treeD = [
"1,2:cjl(a)oeagk(m)dbinflhp(e)aicgm(k)obdhfjl(c)npeg",
"12,1:hkaj(o)dpbmelf(c)cginkb(a)mhdfa(g)jloepc(i)kndh",
"24,3:leop(b)jgahinf(d)dkcmfl(o)beaghj(c)nipk(m)odbl",
"35,2:oagh(n)lkdjcmb(e)epfikg(a)ondhb(i)lcfjm(e)apgo",
"46,1:bmif(a)dgekplc(h)hnojbk(e)mgaic(o)dflpn(k)ehjb",
"57,3:gbnh(d)mpafkci(a)loejdh(m)nbkac(e)gfimp(o)ljdg",
"68,2:mhcf(j)abkogpd(e)lenibf(a)hmckj(g)oaepd(i)lgnm",
"80,1:dolg(a)picfnkh(o)jbmegl(c)dpanh(k)fiobc(e)jmkd",
"91,3:pike(d)cnlaojg(a)bfhmkp(e)icldn(o)gjaeh(b)mfop",
"2,13:afln(g)ojcpdib(m)henkfa(c)glmji(e)copbd(k)hnea",
"13,12:jnec(b)hlofgam(i)kpdien(a)clfbh(o)gmakd(e)pijn",
"24,14:ielk(n)bfdacgm(e)hojpil(c)kbnfd(g)amceh(o)jlpi",
"35,13:ndai(h)cfkpmbe(a)gojlnd(m)icahf(e)pkbmg(c)eojn",
"46,12:fmgc(l)paekdjh(o)bnoifg(a)mclpe(k)djhbn(e)iofm",
"57,14:kpdb(h)maejcfo(i)gnlikd(a)pbhme(c)jafog(m)nlik",
"68,13:cjoe(a)gkmdbin(e)flhpcj(o)eagkd(i)mbnfl(c)hpcj",
"80,12:gmao(k)cieplbd(a)fnhjgm(e)okcip(g)elbdf(a)nhjg",
"91,14:hcpa(k)fnbgeom(c)djlihp(a)ackfn(e)bgmoe(i)dljh",
"1,24:ojdg(m)acplfkb(e)ienhoj(a)gdmca(k)lpfbk(c)inhe",
"12,25:emkb(h)acofpgd(a)jnliem(c)bkhca(o)fgpdj(e)linm",
"24,23:lafd(n)jhpbmkc(a)eogila(k)fndhj(c)pmbkc(e)goil",
"35,24:bgje(o)mckapdh(i)fnlibg(e)ejomc(a)kpadh(m)nfli",
"46,25:jnel(b)hcofgam(e)kpdijn(a)cebhl(o)fgmak(c)dpij",
"57,23:dlog(a)pfcinkh(m)jbmedl(c)ogpai(e)cfnkh(o)jbme",
"68,25:pkie(c)dnlaojg(a)bhfmpk(e)iedcn(g)laojg(m)bfhp",
"80,24:aflm(g)ojcpdib(e)henkaf(i)lmgoj(c)pcdib(a)ehnk",
"91,23:leop(b)jghain(f)dkcmle(a)opbjg(e)hinfd(k)cmlo",
"2,35:gkmb(h)dnpafkc(i)lojegk(a)bmhdn(e)pfack(o)ilje",
"13,36:nhbj(d)lfpakcm(e)gioenh(a)bjdlf(c)pkamc(i)goen",
"24,34:ajce(l)gnibkdm(a)fohpaj(e)celgn(o)bikdm(c)fhpa",
"35,36:lfnd(p)bhjeogm(a)icklfn(e)dpbhj(i)oegam(c)kilf",
"46,34:ckae(m)goiplnj(e)hfdbck(a)emgoi(k)plnjh(c)fdbc",
"57,36:hpfn(j)dlbmaco(e)gkieph(a)fnjdl(m)bcoak(e)giep",
"68,34:emco(k)gaidjbp(a)fnhlem(i)cokga(e)idjbp(c)fnhl",
"80,36:jbhf(d)nlpgcia(e)kmoejb(a)hfdnl(o)pgcia(k)mojb",
"91,34:oigk(m)ecanlpj(a)bhdfoi(e)gkmec(i)anlpj(c)bhdo",
"1,46:fdbh(j)lnpkimo(a)acegfd(e)bhjln(m)pkimo(c)aegf",
"12,47:kcag(i)emonjlp(e)hbfdkc(a)agiem(o)onjlp(c)hbfd",
"24,45:bhdf(j)lnpocak(e)igmebh(a)dfjln(k)pocak(e)igmb",
"35,47:mgie(k)caopnlj(a)fhdbmg(e)iekca(o)opnlj(i)fhdm",
"46,45:djfh(b)nlpaekc(e)giomdj(a)fhbnl(c)paekc(m)giod",
"57,47:ieac(g)kmopnlj(e)dhfbie(a)acgkm(i)opnlj(c)dhfi",
"68,45:nplh(j)dfbckge(a)iamonp(e)lhjdf(o)bckge(k)iamn",
"80,47:cgke(a)imobdfh(e)lnjpcg(a)keaim(c)obdfh(i)lnjc",
"91,45:hjdb(l)fpnmoik(e)gecahj(a)dblfp(m)nmoik(c)geah",
"2,57:oecg(m)akijpln(a)fdhboe(e)cgmak(i)ijpln(c)fdho",
"13,58:fldp(j)bnhgkam(e)ciofld(a)pjbnh(o)gkamc(e)iofl",
"24,56:aomk(i)geclnpj(a)hfdbao(e)mkige(c)clnpj(m)hfda",
"35,58:jpbf(h)ldnkeam(e)gcoijp(a)bfhld(i)nkeam(c)gcoj",
"46,56:eikm(a)cgoblfj(e)hnpdei(a)kmacg(o)oblfj(k)hnpe",
"57,58:lbdf(h)jnpcgae(a)kiomlb(e)dfhjn(c)pcgae(m)kiol",
"68,56:gmoi(k)caenplj(a)dfhbgm(e)oikca(i)enplj(c)dfhg",
"80,58:pjnl(h)fdbacei(e)gkompj(a)nlhfd(o)bacei(k)gkop",
"91,56:dhfb(j)lnpmiko(a)eacgdh(e)fbjln(c)pmiko(g)eacd",
"1,68:kace(g)imonlpj(a)hfbdka(e)cegim(o)onlpj(c)hfbk",
"12,69:bfhd(l)njpeocm(e)kagibf(a)hdlnj(i)peocm(c)kagb",
"24,67:mkog(i)ecapnjl(a)hbfdmk(e)ogiec(o)apnjl(k)hbfm",
"35,69:hnlj(p)dbfimko(e)gaechn(a)ljpdb(c)fimko(e)gach",
"46,67:cgea(i)komdfbh(a)jnlpcg(e)eaiko(k)mdfbh(c)jnlc",
"57,69:odbf(h)lpnigek(e)cmaodb(a)fhlpn(i)igekc(m)maod",
"68,67:fjln(p)bdhckma(a)eoigfj(e)lnpbd(o)hckma(c)eoif",
"80,69:lpjn(h)dfbgaie(e)ckmolp(a)jnhdf(k)bgaie(c)ckml",
"91,67:aegc(i)kmobhdf(e)lnpjae(a)gcikm(o)obhdf(i)lnpa",
"2,80:ikmg(o)ecahjln(a)bpdfik(e)mgoec(c)ahjln(k)bpdi",
"13,79:dnpl(j)hfbcaek(e)igmodn(a)pljhf(m)bcaek(c)igmd",
"24,81:gcae(k)imoflhj(a)dnpbgc(e)aekim(o)oflhj(i)dnpg",
"35,79:nlpj(d)bhfkmoi(e)gecanl(a)pjdbh(c)fkmoi(e)gecn",
"46,81:eokm(a)icgbhdf(e)lnjpeo(a)kmaic(k)gbhdf(c)lnje",
"57,79:lhfd(b)jnpcaeg(e)ikmolh(a)fdbjn(o)pcaeg(i)ikml",
"68,81:bdfh(j)lnpmoik(a)gecabd(e)fhjln(c)pmoik(m)geab",
"80,79:jnpl(h)dbfecag(e)ikomjn(a)plhdb(i)fecag(c)ikoj",
"91,81:omki(g)ecapnlj(a)hfdbom(e)kigec(o)apnlj(k)hfdo",
"1,91:cega(i)kmobdfh(e)jlnpce(a)gaikm(c)obdfh(m)jlnc",
"12,90:iace(g)kmohjln(a)pbdfia(e)cegkm(o)ohjln(i)pbdi",
"24,92:fhdb(l)jnpgiac(e)eomkfh(a)dbljn(k)pgiac(c)eomf",
"35,90:mogi(k)acednlp(a)jfhbmo(e)gikac(i)ednlp(c)jfhm",
"46,92:pnjl(f)hbdkioe(e)mgcapn(a)jlfhb(o)dkioe(k)mgcp",
"57,90:aced(i)kmgodbf(a)hnljpa(e)cekim(c)godbf(m)hnlja",
"68,92:gikm(o)aecjlnp(e)bdhfgi(a)kmoae(i)cjlnp(c)bdhg",
"80,90:dfhb(l)jnpoamk(a)cgiedf(e)hbljn(o)poamk(k)cgid",
"91,92:kmoa(i)gcelpnj(e)fdhbkm(a)oaigc(c)elpnj(m)fdhk",
"7,7:jcmf(a)hkodbl(e)npgiaj(c)mfhkod(b)lenpgi(a)jcmf",
"20,7:gobe(k)mdjhfc(n)lapigo(b)ekmdjh(f)cnlapi(g)obek",
"33,7:nfkh(c)aeplbi(o)dgjmnf(k)hcaepl(b)iodgjm(n)fkhc",
"46,7:dlai(m)gpcenh(j)bfokdl(a)imgpce(n)hjbfok(d)lami",
"59,7:kpdg(f)bmhjae(o)clinkp(d)gfbmhj(a)eoclin(k)pdgf",
"72,7:eimc(b)nagkpo(h)jdflei(m)cbnagk(p)ohjdfl(e)imcb",
"85,7:hbnj(e)lodaic(m)gkfphb(n)jelodai(c)mgkfp(h)bnje",
"7,20:mgea(i)ckpbjf(d)ohlnmg(e)aickpb(j)fdohln(m)geai",
"20,20:cnjo(l)hbeagm(k)dfpicn(j)olhbea(g)mkdfpi(c)njol",
"33,20:faml(d)jgchob(e)kpnifa(m)ldjgch(o)bekpni(f)amld",
"46,20:ojbk(n)dfigla(h)cmepoj(b)kndfig(l)ahcmep(o)jbkn",
"59,20:ihpd(c)mnakeg(f)bjloih(p)dcmnak(e)gfbjlo(i)hpdc",
"72,20:lekf(o)gbimnh(a)pdjcle(k)fogbim(n)hapdjc(l)ekfo",
"85,20:bdoh(j)aklfcm(g)eipnbd(o)hjaklf(c)mgeipn(b)dohj",
"7,33:pkcg(m)elhjfb(i)aondpk(c)gmelhj(f)biaond(p)kcgm",
"20,33:eahm(k)onjdbg(c)lpfieh(a)mkonjd(b)gclpfi(e)ahmk",
"33,33:jmbo(f)hdkagl(n)ciepjm(b)ofhdka(g)lnciep(j)mbof",
"46,33:ngdl(b)kajpfe(m)ohicng(d)lbkajp(f)emohic(n)gdlb",
"59,33:dpfk(h)bmcage(j)lonidp(f)khbmca(g)ejloni(d)pfkh",
"72,33:hiae(n)dcmolk(b)gfpjhi(a)endcmo(l)kbgfpj(h)iaen",
"85,33:amkj(c)fpebhl(o)gdnima(k)jcfpeb(h)logdni(a)mkjc",
"7,46:lfbn(g)ieoamh(p)kjcdlf(b)ngieoa(m)hpkjcd(l)fbng",
"20,46:gdoc(i)kfmjna(e)lbhpgd(o)cikfmj(n)aelbhp(g)doci",
"33,46:olik(a)cgpbfm(d)hnejol(i)kacgpb(f)mdhnej(o)lika",
"46,46:bjep(h)nmdkga(l)ocfibj(e)phnmdk(g)alocfi(b)jeph",
"59,46:fcah(m)loinjd(k)bepgfc(a)hmloin(j)dkbepg(f)cahm",
"72,46:kndg(o)ebjfmi(c)phlakn(d)goebjf(m)icphla(k)ndgo",
"85,46:mhjb(e)pafckl(g)nodimh(j)bepafc(k)lgnodi(m)hjbe",
"7,59:enkl(c)gjodhb(m)apifen(k)lcgjod(h)bmapif(e)nklc",
"20,59:icfm(p)hbaeko(j)dlgnic(f)mphbae(k)ojdlgn(i)cfmp",
"33,59:pgnd(j)mcklbh(a)eofipg(n)djmckl(b)haeofi(p)gndj",
"46,59:ahko(b)fiedlc(n)jmgpah(k)obfied(l)cnjmgp(a)hkob",
"59,59:dmpj(g)kaneoi(h)cblfdm(p)jgkane(o)ihcblf(d)mpjg",
"72,59:jbgc(l)oedmnk(f)hpaijb(g)cloedm(n)kfhpai(j)bgcl",
"85,59:lofa(d)ihjpmc(e)bgknlo(f)adihjp(m)cebgkn(l)ofad",
"7,72:cegn(h)dpojkb(l)iafmce(g)nhdpoj(k)bliafm(c)egnh",
"20,72:hkdi(o)mbflep(a)gjcnhk(d)iombfl(e)pagjcn(h)kdio",
"33,72:nale(b)jgokcf(p)mdihna(l)ebjgok(c)fpmdih(n)aleb",
"46,72:fpim(k)caejhg(d)nlobfp(i)mkcaej(h)gdnlob(f)pimk",
"59,72:bodj(n)lfkgip(m)ehacbo(d)jnlfkg(i)pmehac(b)odjn",
"72,72:iljb(e)pnchmd(g)kofail(j)bepnch(m)dgkofa(i)ljbe",
"85,72:mgcp(a)dkinbo(f)jlhemg(c)padkin(b)ofjlhe(m)gcpa",
"7,85:keoh(m)gcbajn(d)lfipke(o)hmgcba(j)ndlfip(k)eohm",
"20,85:dnab(i)oljmfc(k)hepdn(a)bioljm(f)ckhep(d)nabi",
"33,85:ojfl(c)nkgeda(p)ibmhoj(f)lcnkge(d)apibmh(o)jflc",
"46,85:gbml(n)eaciok(h)pfjdgb(m)lneaci(o)khpfjd(g)bmln",
"59,85:aihd(f)mpnelj(b)kcogai(h)dfmpne(l)jbkcog(a)ihdf",
"72,85:epkc(j)bhgoia(m)lnfdep(k)cjbhgo(i)amlnfd(e)pkcj",
"85,85:lcen(g)jdapmh(k)bifolc(e)ngjdap(m)hkbifo(l)cengj",
"75,15:ebkd(h)mapgiofc(l)njebdk(m)hapgio(c)fljne",
"85,25:lhon(c)bfjakdm(g)eiplho(n)cbfjak(m)dgeip",
"70,28:cfim(o)kanbdhl(e)jgpcfi(o)mkanbd(l)hejgp",
"95,38:jodb(g)mpfahlc(k)ienjod(g)bmpfah(c)lkien",
"80,40:ganl(e)pcjhbfm(o)idkgan(e)lpcjhb(m)foidk",
"62,45:nkfc(i)hoaebjl(d)mgpnkf(i)choaeb(l)jdmgp",
"50,55:dmjg(a)lkohepc(f)binbdm(a)jglkoh(c)pefbi",
"42,95:kpae(j)ncgifom(h)ldbkpa(j)encgif(m)ohldb",
"52,97:fgol(b)emkcjai(p)ndhfgo(b)lemkcj(i)apndh",
"30,97:mbhi(n)fdlgcpo(a)ekjmbh(n)ifdlgc(o)paekj",
"15,97:hiep(d)agmofbk(l)cjnhie(d)pagmof(k)blcjn",
"5,97:oldk(f)jchpmng(b)aieold(f)kjchpm(g)nbaie",
"96,96:bcjg(m)ohfkali(e)pdnbcj(m)gohfka(i)lepdn",
"96,70:iefo(k)lnbcgjm(a)hdpief(k)olnbcg(m)jahdp",
"90,55:pjmc(h)dbkoeal(f)ignpjm(h)cdbkoe(l)afign",
"65,88:cnhb(o)gelajdk(i)fmpcnh(o)bgelaj(k)difmp",
"55,80:jgkp(e)acnohmf(b)dlijgk(e)pacnoh(f)mbdli",
"40,80:ekan(l)ihjdbgo(c)mpfeka(l)nihjdb(o)gcmpf",
"28,60:lmdh(b)nkfoigc(j)apelmd(b)hnkfoi(c)gjape",
"15,50:gbfj(p)ocmekhn(a)idlgbf(p)jocmek(n)haidl",
"5,30:noic(a)flgbpjd(m)hekno(a)cflgbp(d)jmhek",
"28,8:dhal(g)jnmcoeb(k)ipfdha(g)ljnmco(b)ekipf",
"45,15:kfpg(d)hbilajc(n)mokfpg(d)hbilaj(n)cmoek",
"62,5:aoke(m)gdncfhp(j)bilaok(m)egdncf(p)hjbil",
"85,4:hlcm(j)epfagob(i)knhlcm(j)epfago(i)bknd",
"96,20:mdjb(f)kinheal(c)ogpmdj(f)bkinhe(c)alogp",
"20,30:fnbo(h)ckmgjpd(e)lafnbo(h)ckmgjp(e)dlai",
"40,40:bigk(n)dofhlmc(a)jepbig(n)kdofhl(a)mcjep",
"70,58:ojpd(c)lbaenkh(g)mfiojp(c)dlbaen(g)khmfi",
"80,82:ikal(e)fcjobgp(m)nhdika(e)lfcjob(m)gpnhd"
]

// pixel placement of each panel in the figure
const layout = [
  {L:152, T:297, R:1150, B:1295, y0:192, y100:1113, x0:326, x100:1270, yTitle:[651,190], xTitle:[43,800], legend:[1080,26], tag:[634,1452]},
  {L:1866, T:319, R:2866, B:1315, y0:1938, y100:2797, x0:384, x100:1247, yTitle:[2365,213], xTitle:[1757,819], legend:[2795,48], tag:[2382,1452]},
  {L:150, T:1759, R:1151, B:2757, y0:214, y100:1084, x0:1821, x100:2700, yTitle:[649,1652], xTitle:[43,2259], legend:[1078,1489], tag:[620,2911]},
  {L:1866, T:1735, R:2886, B:2755, y0:1936, y100:2812, x0:1798, x100:2689, yTitle:[2376,1625], xTitle:[1757,2246], legend:[2812,1458], tag:[2383,2913]}
]
// tree stroke per panel
const treeStyle = [{w: 2.2, o: 0.5}, {w: 3.0, o: 0.55}, {w: 2.4, o: 0.6}, {w: 2.6, o: 0.58}]

const svg = d3.select('#fig')

// turn the branch strings into edges [Y1, X1, Y2, X2]
function decodeTree(branches, step, holes, relative) {
  const segs = []
  branches.forEach(b => {
    const parts = b.split(':')
    let [y, x] = parts[0].split(',').map(Number)
    let h = null
    const stack = []
    for (const ch of parts[1]) {
      if (ch === '(') { stack.push([y, x, h]); continue }
      if (ch === ')') { [y, x, h] = stack.pop(); continue }
      const k = ch.charCodeAt(0) - 97
      if (k < 0 || k > 15) continue
      if (relative && h !== null) h += (k - 7.5) * Math.PI / 14
      else h = k * Math.PI / 8
      const ny = y + step * Math.cos(h), nx = x + step * Math.sin(h)
      const blocked = ny < -3.5 || ny > 103.5 || nx < -3.5 || nx > 103.5 ||
        holes.some(o => Math.hypot(ny - o[0], nx - o[1]) < o[2])
      // a blocked branch turns back instead of sliding along the edge
      if (blocked) { if (relative) h += Math.PI; continue }
      segs.push([y, x, ny, nx])
      y = ny; x = nx
    }
  })
  return segs
}

function drawPanel(p, i, tree, path) {
  const g = svg.append('g')
  const sy = d3.scaleLinear().domain([0, 100]).range([p.y0, p.y100])
  const sx = d3.scaleLinear().domain([0, 100]).range([p.x0, p.x100])
  const d = 47, k = 1.095
  const cx = (p.L + p.R) / 2 + 10, cy = (p.T + p.B) / 2
  const outX = v => cx + k * (v - cx), outY = v => cy + k * (v - cy)

  // panes
  g.append('rect').attr('x', p.L).attr('y', p.T).attr('width', p.R - p.L).attr('height', p.B - p.T)
    .attr('fill', '#f2f2f2')
  g.append('polygon').attr('fill', '#ececec')
    .attr('points', [[p.R, p.T], [p.R + d, outY(p.T)], [p.R + d, outY(p.B)], [p.R, p.B]].join(' '))
  g.append('polygon').attr('fill', '#f6f6f6')
    .attr('points', [[p.L, p.B], [p.R, p.B], [outX(p.R), p.B + d], [outX(p.L), p.B + d]].join(' '))

  // grid
  const grid = g.append('g').attr('stroke', '#d0d0d0').attr('stroke-width', 2.6).attr('fill', 'none')
  ticks.forEach(t => {
    const px = sy(t), py = sx(t)
    grid.append('polyline').attr('points', [[px, p.T], [px, p.B], [outX(px), p.B + d]].join(' '))
    grid.append('polyline').attr('points', [[p.L, py], [p.R, py], [p.R + d, outY(py)]].join(' '))
  })

  // axis lines and ticks
  g.append('polyline').attr('fill', 'none').attr('stroke', '#4a4a4a').attr('stroke-width', 3.5)
    .attr('points', [[p.L, p.T], [p.R, p.T], [p.R + d, outY(p.T)]].join(' '))
  g.append('line').attr('x1', p.L).attr('x2', p.L).attr('y1', p.T).attr('y2', p.B)
    .attr('stroke', '#1a1a1a').attr('stroke-width', 3)
  ticks.forEach(t => {
    g.append('line').attr('x1', sy(t)).attr('x2', sy(t)).attr('y1', p.T - 15).attr('y2', p.T + 10)
      .attr('stroke', '#444').attr('stroke-width', 3)
    g.append('line').attr('x1', p.L - 17).attr('x2', p.L + 8).attr('y1', sx(t)).attr('y2', sx(t))
      .attr('stroke', '#222').attr('stroke-width', 3)
    g.append('text').attr('x', sy(t)).attr('y', p.T - 33).attr('text-anchor', 'middle')
      .attr('dominant-baseline', 'central').attr('font-size', 33).text(t)
    g.append('text').attr('x', p.L - 47).attr('y', sx(t) + 18).attr('text-anchor', 'middle')
      .attr('dominant-baseline', 'central').attr('font-size', 33).text(t)
  })
  g.append('text').attr('x', p.yTitle[0]).attr('y', p.yTitle[1]).attr('text-anchor', 'middle')
    .attr('dominant-baseline', 'central').attr('font-size', 35).text('Y Coordinate')
  g.append('text').attr('transform', `translate(${p.xTitle[0]},${p.xTitle[1]}) rotate(-90)`)
    .attr('text-anchor', 'middle').attr('dominant-baseline', 'central').attr('font-size', 35).text('X Coordinate')

  // tree edges
  g.append('g').selectAll('line').data(tree).join('line')
    .attr('x1', e => sy(e[0])).attr('y1', e => sx(e[1]))
    .attr('x2', e => sy(e[2])).attr('y2', e => sx(e[3]))
    .attr('stroke', '#008000').attr('stroke-opacity', treeStyle[i].o).attr('stroke-width', treeStyle[i].w)

  // final path and end points
  const line = d3.line().x(v => sy(v[0])).y(v => sx(v[1]))
  g.append('path').datum(path).attr('d', line).attr('fill', 'none')
    .attr('stroke', '#ffa500').attr('stroke-width', 6.5).attr('stroke-linejoin', 'round')
  g.append('circle').attr('cx', sy(starts[i][0])).attr('cy', sx(starts[i][1])).attr('r', 21).attr('fill', '#0000ff')
  g.append('circle').attr('cx', sy(goals[i][0])).attr('cy', sx(goals[i][1])).attr('r', 21).attr('fill', '#ff0000')

  // legend
  const [lx, ly] = p.legend
  const lg = g.append('g').attr('transform', `translate(${lx},${ly})`)
  lg.append('rect').attr('width', 344).attr('height', 176).attr('rx', 8)
    .attr('fill', '#fff').attr('fill-opacity', 0.85).attr('stroke', '#d9d9d9').attr('stroke-width', 2.5)
  lg.append('line').attr('x1', 12).attr('x2', 90).attr('y1', 31).attr('y2', 31)
    .attr('stroke', '#ffa500').attr('stroke-width', 7)
  lg.append('circle').attr('cx', 51).attr('cy', 89).attr('r', 20).attr('fill', '#0000ff')
  lg.append('circle').attr('cx', 51).attr('cy', 145).attr('r', 20).attr('fill', '#ff0000')
  legendItems.forEach((s, j) => {
    lg.append('text').attr('x', 118).attr('y', 43 + j * 56).attr('font-size', 35).text(s)
  })

  // subfigure tag
  svg.append('text').attr('x', p.tag[0]).attr('y', p.tag[1]).attr('text-anchor', 'middle')
    .attr('dominant-baseline', 'central').style('font-family', '"Liberation Serif", serif')
    .style('fill', '#000').attr('font-size', 68).text(panelTags[i])
}

drawPanel(layout[0], 0, decodeTree(treeA, stepA, holesA, false), pathA)
drawPanel(layout[1], 1, decodeTree(treeB, stepB, holesB, true), pathB)
drawPanel(layout[2], 2, decodeTree(treeC, stepC, holesC, true), pathC)
drawPanel(layout[3], 3, decodeTree(treeD, stepD, holesD, true), pathD)
</script>
